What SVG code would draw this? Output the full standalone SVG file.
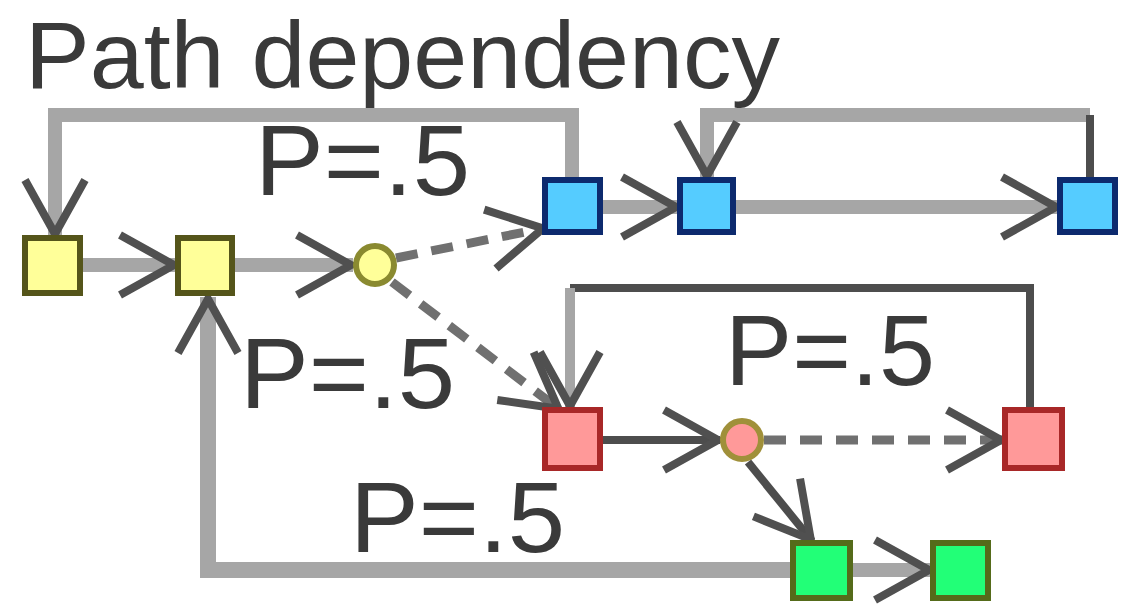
<svg xmlns="http://www.w3.org/2000/svg" width="1123" height="604" viewBox="0 0 1123 604">
<defs>
<marker id="ah" markerUnits="userSpaceOnUse" markerWidth="80" markerHeight="80" viewBox="-64 -40 70 80" refX="0" refY="0" orient="auto">
<path d="M-56,-30 L-2,0 L-56,30" fill="none" stroke="#505050" stroke-width="8" stroke-linejoin="miter"/>
</marker>
<style>
.t{font-family:"Liberation Sans",Arial,sans-serif;font-size:100px;fill:#3a3a3a}
.h{font-size:94px}
.g{fill:none;stroke:#a6a6a6;stroke-width:14}
.d{fill:none;stroke:#4d4d4d;stroke-width:8}
.ds{fill:none;stroke:#707070;stroke-width:9;stroke-dasharray:22 14}
.y{fill:#ffff99;stroke:#55551a;stroke-width:6}
.b{fill:#55ccff;stroke:#0d2a6e;stroke-width:6}
.r{fill:#ff9999;stroke:#a82828;stroke-width:6}
.gr{fill:#22ff77;stroke:#556b1a;stroke-width:6}
</style>
</defs>
<rect width="1123" height="604" fill="#ffffff"/>
<text class="t h" x="25" y="88" textLength="755" lengthAdjust="spacingAndGlyphs">Path dependency</text>
<g id="connectors">
<path class="g" d="M572,180 V115 H55 V236" marker-end="url(#ah)"/>
<path class="g" d="M1090,115 H707 V178" marker-end="url(#ah)"/>
<path class="d" d="M1090,180 V115"/>
<path class="g" d="M80,265 H176" marker-end="url(#ah)"/>
<path class="g" d="M232,265 H353" marker-end="url(#ah)"/>
<path class="ds" d="M396,258 L545,228" marker-end="url(#ah)"/>
<path class="ds" d="M392,282 L560,410" marker-end="url(#ah)"/>
<path class="g" d="M600,207 H678" marker-end="url(#ah)"/>
<path class="g" d="M733,207 H1058" marker-end="url(#ah)"/>
<path class="d" d="M1030,410 V288 H570"/>
<path class="g" d="M570,288 V408" marker-end="url(#ah)" style="stroke-width:10"/>
<path class="d" d="M600,440 H720" marker-end="url(#ah)"/>
<path class="ds" d="M764,440 H1003" marker-end="url(#ah)"/>
<path class="d" d="M748,462 L812,541" marker-end="url(#ah)"/>
<path class="g" d="M850,570 H931" marker-end="url(#ah)"/>
<path class="g" d="M793,570 H208 V297" marker-end="url(#ah)" style="stroke-width:16"/>
</g>
<g id="labels">
<text class="t" x="255" y="195" textLength="215" lengthAdjust="spacingAndGlyphs">P=.5</text>
<text class="t" x="240" y="408" textLength="215" lengthAdjust="spacingAndGlyphs">P=.5</text>
<text class="t" x="725" y="385" textLength="210" lengthAdjust="spacingAndGlyphs">P=.5</text>
<text class="t" x="350" y="552" textLength="215" lengthAdjust="spacingAndGlyphs">P=.5</text>
</g>
<g id="y1"><rect class="y" x="25" y="238" width="55" height="55"/></g>
<g id="y2"><rect class="y" x="178" y="238" width="54" height="55"/></g>
<g id="yd"><circle cx="375" cy="265" r="19" fill="#ffff99" stroke="#8a8a30" stroke-width="6"/></g>
<g id="b1"><rect class="b" x="545" y="180" width="55" height="52"/></g>
<g id="b2"><rect class="b" x="680" y="180" width="53" height="52"/></g>
<g id="b3"><rect class="b" x="1060" y="180" width="55" height="52"/></g>
<g id="r1"><rect class="r" x="545" y="410" width="55" height="58"/></g>
<g id="rd"><circle cx="742" cy="440" r="19" fill="#ff9999" stroke="#a0903a" stroke-width="6"/></g>
<g id="r2"><rect class="r" x="1005" y="410" width="57" height="58"/></g>
<g id="g1"><rect class="gr" x="793" y="543" width="57" height="55"/></g>
<g id="g2"><rect class="gr" x="933" y="543" width="55" height="55"/></g>
</svg>
